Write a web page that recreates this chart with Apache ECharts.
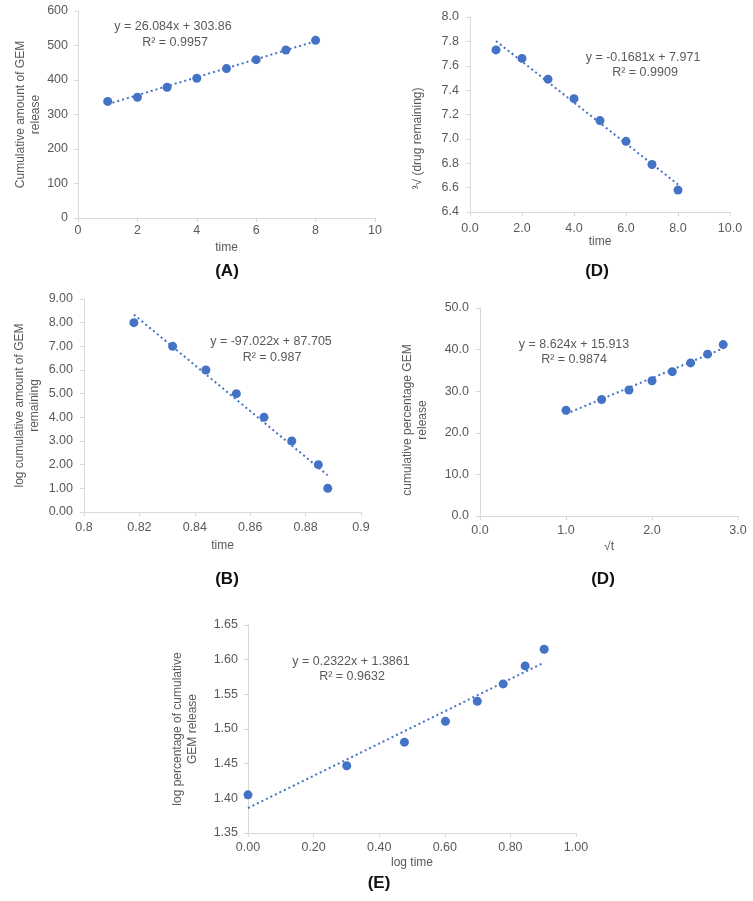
<!DOCTYPE html>
<html>
<head>
<meta charset="utf-8">
<style>html,body{margin:0;padding:0;background:#fff;}#c{width:753px;height:901px;}</style>
<script src="https://cdn.jsdelivr.net/npm/echarts@6/dist/echarts.min.js"></script>
</head>
<body>
<div id="c"></div>
<script>
// Panel A: zero order
const timeA = [1, 2, 3, 4, 5, 6, 7, 8];
const cumA = [338, 350, 379, 405, 433, 459, 487, 515];
const trendA = [[1, 329.9], [8, 512.5]];
// Panel D (top): Hixson-Crowell
const timeD = [1, 2, 3, 4, 5, 6, 7, 8];
const cubeD = [7.73, 7.66, 7.49, 7.33, 7.15, 6.98, 6.79, 6.58];
const trendD = [[1, 7.803], [8, 6.626]];
// Panel B: first order
const timeB = [0.818, 0.832, 0.844, 0.855, 0.865, 0.875, 0.8846, 0.888];
const logRemB = [8, 7, 6, 5, 4, 3, 2, 1];
const trendB = [[0.818, 8.34], [0.888, 1.55]];
// Panel D (bottom): Higuchi
const sqrtT = [1.0, 1.414, 1.732, 2.0, 2.236, 2.449, 2.646, 2.828];
const pctH = [25.4, 28.0, 30.3, 32.5, 34.7, 36.8, 38.9, 41.2];
const trendH = [[1.0, 24.54], [2.828, 40.30]];
// Panel E: Korsmeyer-Peppas
const logT = [0.0, 0.301, 0.477, 0.602, 0.699, 0.778, 0.845, 0.903];
const logPct = [1.405, 1.447, 1.481, 1.511, 1.540, 1.565, 1.591, 1.615];
const trendE = [[0.0, 1.386], [0.903, 1.596]];

const FONT = 'Liberation Sans';
const GREY = '#595959';
const AX = '#d9d9d9';
const BLUE = '#4472C4';

function pts(xs, ys) { return xs.map((x, i) => [x, ys[i]]); }

function xAx(gi, min, max, interval, name, margin, gap, fmt) {
  return {
    type: 'value', gridIndex: gi, min, max, interval,
    name, nameLocation: 'middle', nameGap: gap,
    nameTextStyle: { color: GREY, fontSize: 12, fontFamily: FONT },
    axisLine: { show: true, lineStyle: { color: AX, width: 1 } },
    axisTick: { show: true, length: 4, lineStyle: { color: AX } },
    axisLabel: { color: GREY, fontSize: 12.5, fontFamily: FONT, margin, formatter: fmt, showMinLabel: true, showMaxLabel: true },
    splitLine: { show: false }
  };
}
function yAx(gi, min, max, interval, name, margin, gap, fmt, pad) {
  return {
    type: 'value', gridIndex: gi, min, max, interval,
    name, nameLocation: 'middle', nameGap: gap,
    nameTextStyle: { color: GREY, fontSize: 12, fontFamily: FONT, lineHeight: 15, padding: pad || 0 },
    axisLine: { show: true, lineStyle: { color: AX, width: 1 } },
    axisTick: { show: true, length: 4, lineStyle: { color: AX } },
    axisLabel: { color: GREY, fontSize: 12.5, fontFamily: FONT, margin, formatter: fmt },
    splitLine: { show: false }
  };
}
function scatter(i, data) {
  return { type: 'scatter', xAxisIndex: i, yAxisIndex: i, data, symbolSize: 9,
    itemStyle: { color: BLUE, opacity: 1 }, z: 3, silent: true };
}
function trend(i, data) {
  return { type: 'line', xAxisIndex: i, yAxisIndex: i, data, symbol: 'none',
    lineStyle: { color: BLUE, width: 2, type: [2, 3] }, z: 2, silent: true };
}
function txt(x, y, s, opts) {
  return { type: 'text', x: x, y: y, style: Object.assign({ text: s, fill: GREY, font: '12.5px ' + FONT, textAlign: 'center', textVerticalAlign: 'middle' }, opts || {}) };
}
const f0 = v => String(Math.round(v));
const f1 = v => v.toFixed(1);
const f2 = v => v.toFixed(2);
const fB = v => String(+v.toFixed(2));

const chart = echarts.init(document.getElementById('c'), null, { renderer: 'canvas' });
chart.setOption({
  backgroundColor: '#ffffff',
  animation: false,
  grid: [
    { left: 78, top: 11, width: 297, height: 207 },
    { left: 470, top: 17, width: 260, height: 195 },
    { left: 84, top: 299, width: 277, height: 213 },
    { left: 480, top: 308, width: 258, height: 208 },
    { left: 248, top: 625, width: 328, height: 208 }
  ],
  xAxis: [
    xAx(0, 0, 10, 2, 'time', 6, 24, f0),
    xAx(1, 0, 10, 2, 'time', 10, 20, f1),
    xAx(2, 0.8, 0.9, 0.02, 'time', 9, 28, fB),
    xAx(3, 0, 3, 1, '\u221At', 8, 25, f1),
    xAx(4, 0, 1, 0.2, 'log time', 8, 24, f2)
  ],
  yAxis: [
    yAx(0, 0, 600, 100, 'Cumulative amount of GEM\nrelease', 10, 35, f0),
    yAx(1, 6.4, 8.0, 0.2, '\u00B3\u221A (drug remaining)', 11, 45, f1, [0, 48, 0, 0]),
    yAx(2, 0, 9, 1, 'log cumulative amount of GEM\nremaining', 11, 42, f2),
    yAx(3, 0, 50, 10, 'cumulative percentage GEM\nrelease', 11, 50, f1, [0, 16, 0, 0]),
    yAx(4, 1.35, 1.65, 0.05, 'log percentage of cumulative\nGEM release', 10, 48, f2)
  ],
  series: [
    trend(0, trendA), scatter(0, pts(timeA, cumA)),
    trend(1, trendD), scatter(1, pts(timeD, cubeD)),
    trend(2, trendB), scatter(2, pts(timeB, logRemB)),
    trend(3, trendH), scatter(3, pts(sqrtT, pctH)),
    trend(4, trendE), scatter(4, pts(logT, logPct))
  ],
  graphic: [
    txt(173, 27, 'y = 26.084x + 303.86'),
    txt(175, 43, 'R\u00B2 = 0.9957'),
    txt(643, 58, 'y = -0.1681x + 7.971'),
    txt(645, 73, 'R\u00B2 = 0.9909'),
    txt(271, 342, 'y = -97.022x + 87.705'),
    txt(272, 358, 'R\u00B2 = 0.987'),
    txt(574, 345, 'y = 8.624x + 15.913'),
    txt(574, 360, 'R\u00B2 = 0.9874'),
    txt(351, 662, 'y = 0.2322x + 1.3861'),
    txt(352, 677, 'R\u00B2 = 0.9632'),
    txt(227, 271, '(A)', { fill: '#111', font: 'bold 17px ' + FONT }),
    txt(597, 271, '(D)', { fill: '#111', font: 'bold 17px ' + FONT }),
    txt(227, 579, '(B)', { fill: '#111', font: 'bold 17px ' + FONT }),
    txt(603, 579, '(D)', { fill: '#111', font: 'bold 17px ' + FONT }),
    txt(379, 883, '(E)', { fill: '#111', font: 'bold 17px ' + FONT })
  ]
});
</script>
</body>
</html>
